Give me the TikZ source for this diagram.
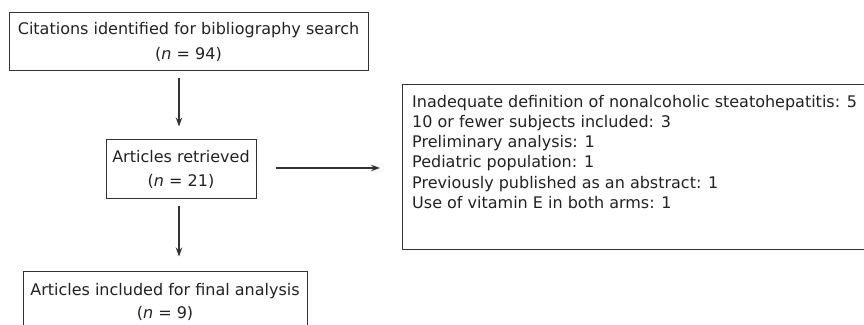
\documentclass[tikz,border=0pt]{standalone}
\usepackage{fontspec}
\setmainfont{DejaVu Sans}
\usetikzlibrary{arrows.meta}
\definecolor{ln}{HTML}{333333}
\definecolor{tx}{HTML}{222222}
\begin{document}
\begin{tikzpicture}[x=1pt,y=1pt,
  boxa/.style={draw=ln,line width=1pt,rectangle,inner sep=0pt,text=tx,align=center,font=\fontsize{16}{23.5}\selectfont},
  boxf/.style={draw=ln,line width=1pt,rectangle,inner sep=0pt},
  txl/.style={inner sep=0pt,text=tx,align=left,font=\fontsize{16}{20.2}\selectfont},
  arr/.style={draw=ln,line width=1.1pt,-{Stealth[length=9pt,width=6.5pt]}}]
\useasboundingbox (0,0) rectangle (864,324);
\clip (0,0) rectangle (864,324);
\node[boxa,minimum width=359pt,minimum height=58pt,font=\fontsize{16}{25}\selectfont] (b1) at (188.5,282) {Citations identified for bibliography search\\(\textit{n} = 94)};
\node[boxa,minimum width=150pt,minimum height=59pt] (b2) at (181,154.5) {Articles retrieved\\(\textit{n} = 21)};
\node[boxa,minimum width=284pt,minimum height=62pt] (b3) at (165,22) {Articles included for final analysis\\(\textit{n} = 9)};
\node[boxf,minimum width=468pt,minimum height=165pt,anchor=north west] (b4) at (402,240) {};
\node[txl,anchor=north west] (b4t) at ([xshift=10pt,yshift=-11pt]b4.north west) {Inadequate definition of nonalcoholic steatohepatitis: 5\\
10 or fewer subjects included: 3\\
Preliminary analysis: 1\\
Pediatric population: 1\\
Previously published as an abstract: 1\\
Use of vitamin E in both arms: 1};
\coordinate (ax) at (179,0);
\coordinate (hy) at (0,156);
\draw[arr,shorten <=7pt,shorten >=13pt] (b1.south -| ax) -- (b2.north -| ax);
\draw[arr,shorten <=7pt,shorten >=14pt] (b2.south -| ax) -- (b3.north -| ax);
\draw[arr,shorten <=19pt,shorten >=22pt] (b2.east |- hy) -- (b4.west |- hy);
\end{tikzpicture}
\end{document}
